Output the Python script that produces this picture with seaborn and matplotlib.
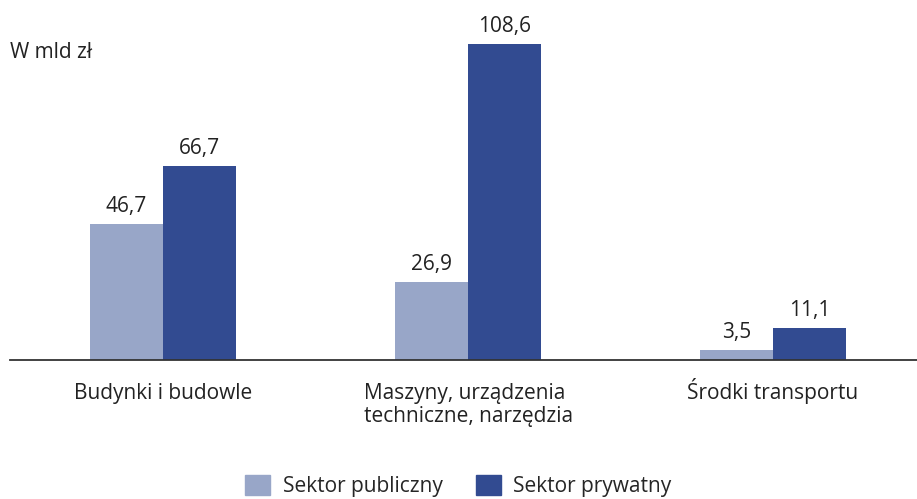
import pandas as pd
import matplotlib.pyplot as plt
import matplotlib.transforms as mtransforms
import seaborn as sns

categories = ["Budynki i budowle", "Maszyny, urządzenia\ntechniczne, narzędzia", "Środki transportu"]
public_vals = [46.7, 26.9, 3.5]
private_vals = [66.7, 108.6, 11.1]
series_names = ["Sektor publiczny", "Sektor prywatny"]
colors = ["#98a6c8", "#324b91"]

df = pd.DataFrame({
    "kategoria": categories * 2,
    "sektor": [series_names[0]] * 3 + [series_names[1]] * 3,
    "wartosc": public_vals + private_vals,
})

sns.set_style("white")
plt.rcParams['font.family'] = ['Open Sans', 'DejaVu Sans']
fs = 15

fig = plt.figure(figsize=(9.17, 4.99), dpi=100)
ax = fig.add_axes([10 / 917, 139 / 499, 907 / 917, 360 / 499])

sns.barplot(data=df, x="kategoria", y="wartosc", hue="sektor", palette=colors,
            width=0.48, gap=0, saturation=1, linewidth=0, ax=ax, legend=False)

ax.set_xlim(-0.502, 2.472)
ax.set_ylim(0, 123.7)

for cont in ax.containers:
    labels = [f"{b.get_height():.1f}".replace(".", ",") for b in cont]
    ax.bar_label(cont, labels=labels, padding=5, fontsize=fs, color="#222222")

sns.despine(ax=ax, left=True)
ax.spines['bottom'].set_color("#333333")
ax.spines['bottom'].set_linewidth(1.3)
ax.set_yticks([])
ax.set_xlabel("")
ax.set_ylabel("")
ax.tick_params(axis='x', length=0, pad=28, labelsize=fs, labelcolor="#222222")
for t in ax.get_xticklabels():
    t.set_verticalalignment("baseline")
    t.set_multialignment("left")
    if "\n" in t.get_text():
        # baseline aligns the last line, push down so the first line sits with the others
        t.set_linespacing(1.1)
        t.set_transform(t.get_transform() + mtransforms.ScaledTranslation(0, -0.23, fig.dpi_scale_trans))

fig.text(10 / 917, 1 - 52 / 499, "W mld zł", fontsize=fs, color="#222222", va="center", ha="left")

handles = [plt.Rectangle((0, 0), 1, 1, color=c) for c in colors]
fig.legend(handles, series_names, loc="center", bbox_to_anchor=(0.5, 1 - 486 / 499),
           ncol=2, frameon=False, fontsize=fs, handlelength=1.2, handleheight=1.15,
           columnspacing=1.6, handletextpad=0.6)

fig.savefig("out.png", dpi=100)
